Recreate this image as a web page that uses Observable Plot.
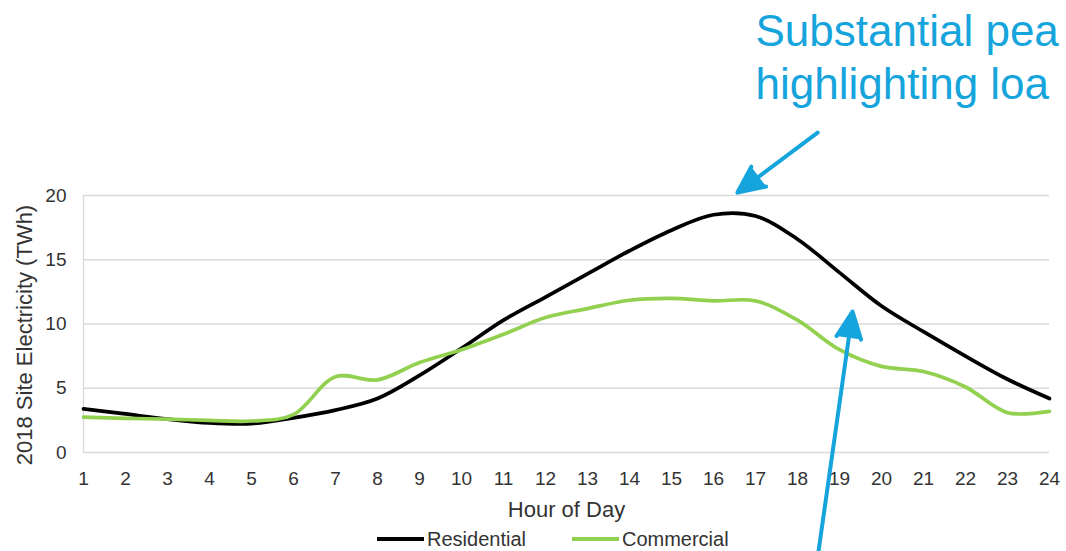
<!DOCTYPE html>
<html><head><meta charset="utf-8">
<script src="https://cdn.jsdelivr.net/npm/d3@7"></script>
<script src="https://cdn.jsdelivr.net/npm/@observablehq/plot@0.6"></script>
<style>
body{margin:0;background:#fff;}
#wrap{position:relative;width:1066px;height:551px;overflow:hidden;font-family:"Liberation Sans",Arial,sans-serif;}
#legend{position:absolute;left:377px;top:527px;display:flex;align-items:center;font-size:20px;color:#333;line-height:24px;white-space:nowrap;}
.item{display:flex;align-items:center;margin-right:46px;}
.sw{display:inline-block;width:47px;height:4px;margin-right:3px;}
</style></head><body><div id="wrap"><div id="chart"></div><div id="legend"></div></div>
<script>
// ---- data ----
const hours = [1,2,3,4,5,6,7,8,9,10,11,12,13,14,15,16,17,18,19,20,21,22,23,24];
const residential = [3.4,3.0,2.6,2.3,2.25,2.7,3.3,4.2,6.0,8.1,10.3,12.1,13.9,15.7,17.3,18.5,18.4,16.6,14.0,11.4,9.4,7.5,5.7,4.2];
const commercial  = [2.75,2.65,2.6,2.5,2.45,2.95,5.9,5.65,7.0,8.0,9.2,10.5,11.2,11.85,12.0,11.8,11.8,10.3,8.0,6.7,6.3,5.1,3.1,3.2];
const seriesNames = ["Residential","Commercial"];
const seriesColors = ["#000000","#92d050"];
const yTicks = [0,5,10,15,20];
const xTitle = "Hour of Day";
const yTitle = "2018 Site Electricity (TWh)";
const noteLines = ["Substantial pea", "highlighting loa"];
const noteHour = [17.0, 17.0];
const noteValue = [32.76, 28.64];
const arrowFromHour = [18.48, 18.5];
const arrowFromValue = [24.9, -7.7];
const arrowToHour = [16.57, 19.31];
const arrowToValue = [20.23, 10.97];

// ---- build tables ----
const data = [];
hours.forEach((h,i)=>{ data.push({hour:h,value:residential[i],series:seriesNames[0]}); });
hours.forEach((h,i)=>{ data.push({hour:h,value:commercial[i],series:seriesNames[1]}); });
const notes = noteLines.map((t,i)=>({text:t,x:noteHour[i],y:noteValue[i]}));
const arrows = arrowFromHour.map((v,i)=>({x1:v,y1:arrowFromValue[i],x2:arrowToHour[i],y2:arrowToValue[i]}));
const blue = "#15a4dc";

const plot = Plot.plot({
  width:1066, height:530,
  marginTop:195, marginLeft:83, marginRight:17, marginBottom:78,
  style:{fontFamily:'"Liberation Sans", Arial, sans-serif', fontSize:"19px", color:"#333", overflow:"visible", background:"transparent"},
  x:{domain:[1,24]},
  y:{domain:[0,20]},
  color:{domain:seriesNames, range:seriesColors},
  marks:[
    Plot.gridY(yTicks, {stroke:"#d9d9d9", strokeOpacity:1, strokeWidth:1.3}),
    Plot.ruleX([1], {stroke:"#d9d9d9", strokeWidth:1.3}),
    Plot.axisY(yTicks, {tickSize:0, tickPadding:17, label:null}),
    Plot.axisX(hours, {tickSize:0, tickPadding:19, label:null}),
    Plot.text([yTitle], {text:d=>d, frameAnchor:"left", textAnchor:"middle", lineAnchor:"middle", rotate:-90, dx:-59, dy:11, fontSize:22, fill:"#333"}),
    Plot.text([xTitle], {text:d=>d, frameAnchor:"bottom", textAnchor:"middle", lineAnchor:"middle", dy:57, fontSize:22, fill:"#333"}),
    Plot.line(data, {x:"hour", y:"value", stroke:"series", z:"series", curve:"catmull-rom", strokeWidth:3.7}),
    Plot.arrow(arrows, {x1:"x1", y1:"y1", x2:"x2", y2:"y2", stroke:blue, fill:blue, strokeWidth:4, headLength:11, headAngle:50, strokeLinejoin:"miter"}),
    Plot.text(notes, {x:"x", y:"y", text:"text", textAnchor:"start", fontSize:44, fill:blue})
  ]
});
document.getElementById("chart").appendChild(plot);

const legend = document.getElementById("legend");
seriesNames.forEach((n,i)=>{
  const it = document.createElement("div"); it.className="item";
  const sw = document.createElement("span"); sw.className="sw"; sw.style.background = seriesColors[i];
  const tx = document.createElement("span"); tx.textContent = n;
  it.appendChild(sw); it.appendChild(tx); legend.appendChild(it);
});
</script></body></html>
